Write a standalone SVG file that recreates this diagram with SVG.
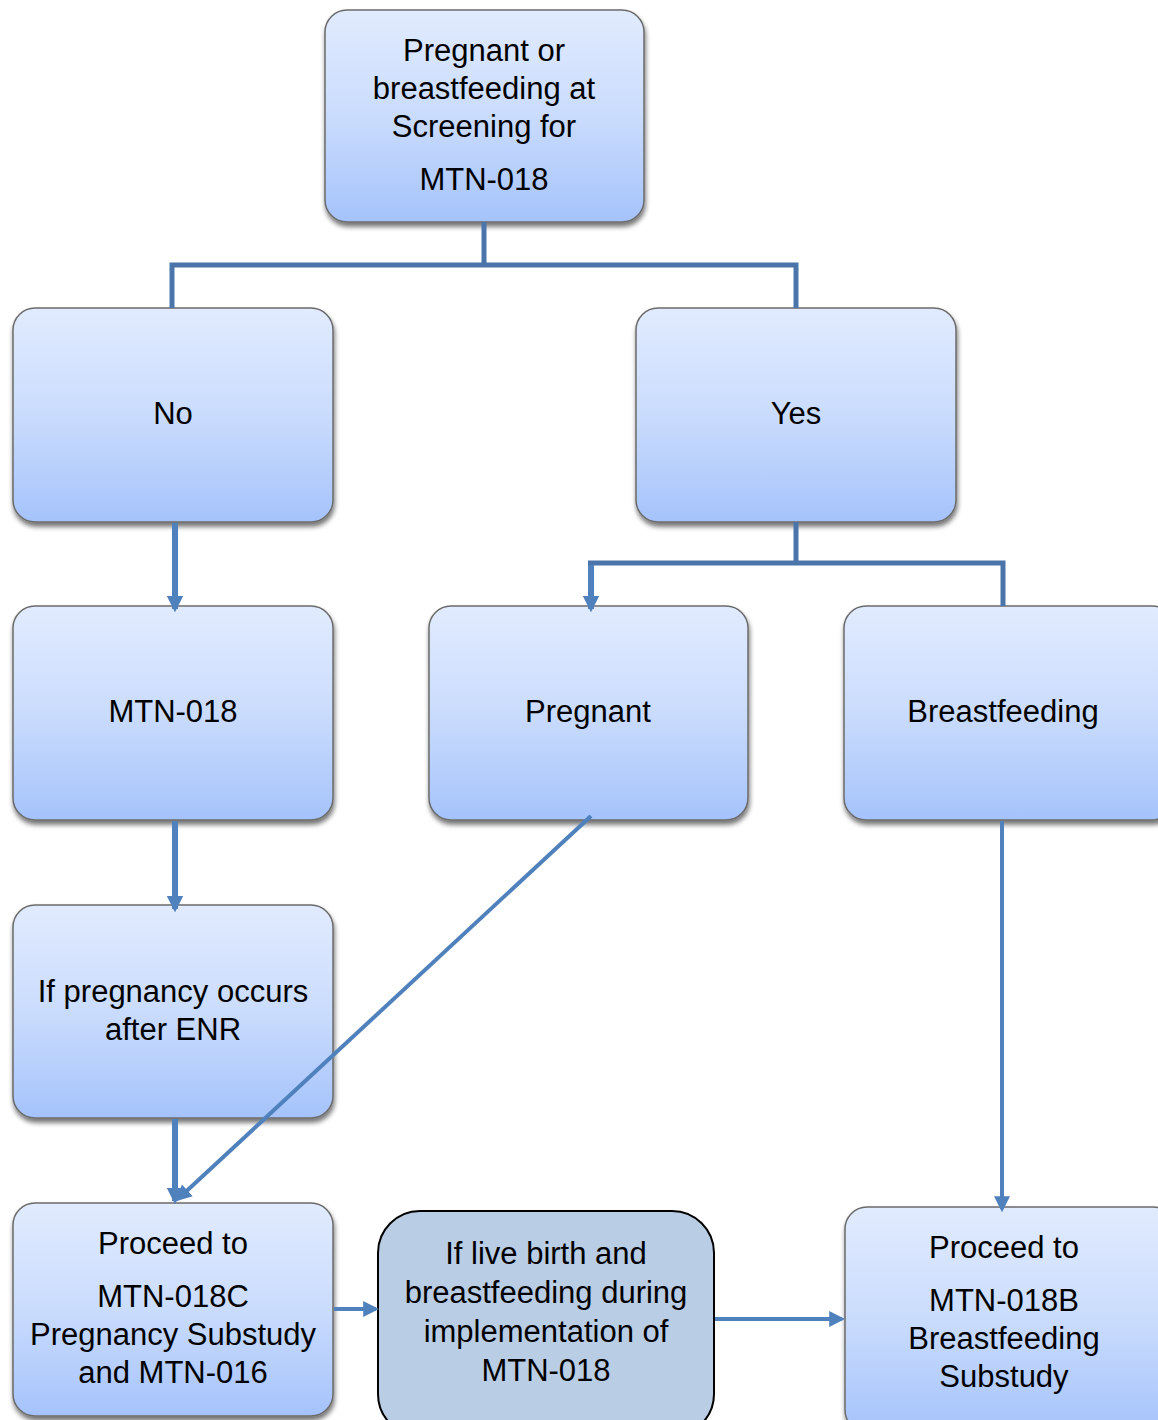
<svg xmlns="http://www.w3.org/2000/svg" width="1158" height="1420" viewBox="0 0 1158 1420">
<defs>
<linearGradient id="g" x1="0" y1="0" x2="0" y2="1">
<stop offset="0" stop-color="#e1ebfe"/>
<stop offset="0.5" stop-color="#cadcfd"/>
<stop offset="1" stop-color="#a5c3fb"/>
</linearGradient>
<filter id="sh" x="-10%" y="-10%" width="120%" height="125%">
<feGaussianBlur in="SourceAlpha" stdDeviation="2.5"/>
<feOffset dx="1" dy="4" result="b"/>
<feComponentTransfer><feFuncA type="linear" slope="0.55"/></feComponentTransfer>
<feMerge><feMergeNode/><feMergeNode in="SourceGraphic"/></feMerge>
</filter>
<marker id="ah" viewBox="0 0 10 10" refX="8" refY="5" markerWidth="2.8" markerHeight="3" orient="auto" markerUnits="strokeWidth">
<path d="M0,0 L10,5 L0,10 z" fill="#4f81bd"/>
</marker>
<marker id="ah2" viewBox="0 0 10 10" refX="8" refY="5" markerWidth="4" markerHeight="4.5" orient="auto" markerUnits="strokeWidth">
<path d="M0,0 L10,5 L0,10 z" fill="#4f81bd"/>
</marker>
</defs>
<style>
.box{fill:url(#g);stroke:#6b6b6b;stroke-width:1.5;filter:url(#sh)}
.t{font-family:"Liberation Sans",Arial,sans-serif;font-size:31px;fill:#000;text-anchor:middle}
.tree{fill:none;stroke:#4a74aa;stroke-width:5}
.arr{fill:none;stroke:#4f81bd;stroke-width:6}
.arr2{fill:none;stroke:#4f81bd;stroke-width:4}
</style>
<g id="n-top"><rect class="box" x="325" y="10" width="319" height="212" rx="22"/>
<text class="t" x="484" y="61">Pregnant or</text><text class="t" x="484" y="99">breastfeeding at</text><text class="t" x="484" y="137">Screening for</text><text class="t" x="484" y="190">MTN-018</text></g>
<g id="n-no"><rect class="box" x="13" y="308" width="320" height="214" rx="22"/><text class="t" x="173" y="424">No</text></g>
<g id="n-yes"><rect class="box" x="636" y="308" width="320" height="214" rx="22"/><text class="t" x="796" y="424">Yes</text></g>
<g id="n-mtn"><rect class="box" x="13" y="606" width="320" height="214" rx="22"/><text class="t" x="173" y="722">MTN-018</text></g>
<g id="n-preg"><rect class="box" x="429" y="606" width="319" height="214" rx="22"/><text class="t" x="588" y="722">Pregnant</text></g>
<g id="n-bf"><rect class="box" x="844" y="606" width="330" height="214" rx="22"/><text class="t" x="1003" y="722">Breastfeeding</text></g>
<g id="n-ifpreg"><rect class="box" x="13" y="905" width="320" height="213" rx="22"/>
<text class="t" x="173" y="1002">If pregnancy occurs</text><text class="t" x="173" y="1040">after ENR</text></g>
<g id="n-c"><rect class="box" x="13" y="1203" width="320" height="213" rx="22"/>
<text class="t" x="173" y="1254">Proceed to</text><text class="t" x="173" y="1307">MTN-018C</text><text class="t" x="173" y="1345">Pregnancy Substudy</text><text class="t" x="173" y="1383">and MTN-016</text></g>
<g id="n-live"><rect x="378" y="1211" width="336" height="225" rx="42" fill="#b9cde5" stroke="#000" stroke-width="2"/>
<text class="t" x="546" y="1264">If live birth and</text><text class="t" x="546" y="1303">breastfeeding during</text><text class="t" x="546" y="1342">implementation of</text><text class="t" x="546" y="1381">MTN-018</text></g>
<g id="n-b"><rect class="box" x="845" y="1207" width="330" height="225" rx="22"/>
<text class="t" x="1004" y="1258">Proceed to</text><text class="t" x="1004" y="1311">MTN-018B</text><text class="t" x="1004" y="1349">Breastfeeding</text><text class="t" x="1004" y="1387">Substudy</text></g>
<g id="connectors">
<path class="tree" d="M484,222 V265 M172,308 V265 H796 V308"/>
<path class="tree" d="M796,522 V563 M588,563 H1003 V606"/>
<line class="arr" x1="591" y1="565" x2="591" y2="609" marker-end="url(#ah)"/>
<line class="arr" x1="175" y1="523" x2="175" y2="609" marker-end="url(#ah)"/>
<line class="arr" x1="175" y1="821" x2="175" y2="909" marker-end="url(#ah)"/>
<line class="arr" x1="175" y1="1119" x2="175" y2="1201" marker-end="url(#ah)"/>
<line class="arr2" x1="591" y1="816" x2="178" y2="1199" marker-end="url(#ah2)"/>
<line class="arr2" x1="1002" y1="821" x2="1002" y2="1209" marker-end="url(#ah2)"/>
<line class="arr2" x1="334" y1="1309" x2="376" y2="1309" marker-end="url(#ah2)"/>
<line class="arr2" x1="715" y1="1319" x2="842" y2="1319" marker-end="url(#ah2)"/>
</g>
</svg>
